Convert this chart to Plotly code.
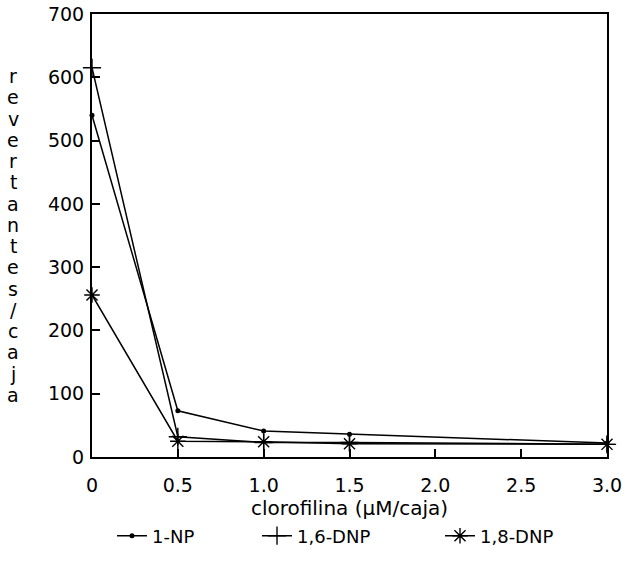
import plotly.graph_objects as go

x_vals = [0, 0.5, 1.0, 1.5, 3.0]
np1 = [540, 73, 41, 36, 22]
dnp16 = [615, 32, 23, 23, 20]
dnp18 = [256, 25, 24, 21, 20]

series_names = ["1-NP", "1,6-DNP", "1,8-DNP"]
x_ticks = [0, 0.5, 1.0, 1.5, 2.0, 2.5, 3.0]
x_ticklabels = ["0", "0.5", "1.0", "1.5", "2.0", "2.5", "3.0"]
y_ticks = [0, 100, 200, 300, 400, 500, 600, 700]
y_title = "revertantes/caja"
x_title = "clorofilina (µM/caja)"

FONT = "DejaVu Sans"
TICKFONT = 19

# body margin is removed in the page, so figure pixels == picture pixels
W, H = 625, 577
L, T = 92, 14
R = W - 607
B = H - 457
PW, PH = W - L - R, H - T - B

def px_x(p):
    return (p - L) / PW

def px_y(p):
    return (H - B - p) / PH

fig = go.Figure()
fig.add_trace(go.Scatter(x=x_vals, y=np1, name=series_names[0], mode="lines+markers",
                         line=dict(color="black", width=1.5),
                         marker=dict(symbol="circle", size=5, color="black"),
                         cliponaxis=False, legend="legend"))
fig.add_trace(go.Scatter(x=x_vals, y=dnp16, name=series_names[1], mode="lines+markers",
                         line=dict(color="black", width=1.5),
                         marker=dict(symbol="cross-thin", size=13, line=dict(color="black", width=1.4)),
                         cliponaxis=False, legend="legend2"))
fig.add_trace(go.Scatter(x=x_vals, y=dnp18, name=series_names[2], mode="lines+markers",
                         line=dict(color="black", width=1.5),
                         marker=dict(symbol="asterisk-open", size=13, line=dict(color="black", width=1.4)),
                         cliponaxis=False, legend="legend3"))

leg_common = dict(orientation="h", yanchor="middle", y=px_y(536), xanchor="left",
                  font=dict(family=FONT, size=18, color="black"),
                  bgcolor="rgba(0,0,0,0)", itemwidth=30)

fig.update_layout(
    width=W, height=H,
    margin=dict(l=L, r=R, t=T, b=B, autoexpand=False),
    paper_bgcolor="white", plot_bgcolor="white",
    font=dict(family=FONT, size=TICKFONT, color="black"),
    showlegend=True,
    legend=dict(x=px_x(112), **leg_common),
    legend2=dict(x=px_x(257), **leg_common),
    legend3=dict(x=px_x(440), **leg_common),
)
fig.update_xaxes(range=[0, 3], tickvals=x_ticks, ticktext=x_ticklabels, automargin=False,
                 showgrid=False, zeroline=False, showline=True, linecolor="black", linewidth=2,
                 mirror=True, ticks="inside", ticklen=8, tickwidth=1.5, tickcolor="black",
                 ticklabelstandoff=10, tickfont=dict(family=FONT, size=TICKFONT),
                 title=dict(text=x_title, font=dict(family=FONT, size=TICKFONT + 1), standoff=6))
fig.update_yaxes(range=[0, 700], tickvals=y_ticks, automargin=False,
                 showgrid=False, zeroline=False, showline=True, linecolor="black", linewidth=2,
                 mirror=True, ticks="inside", ticklen=8, tickwidth=1.5, tickcolor="black",
                 ticklabelstandoff=2, tickfont=dict(family=FONT, size=TICKFONT))

# vertical stacked y-axis title, one character per line
chars = list(y_title)
top_c, bot_c = 76, 395
step = (bot_c - top_c) / (len(chars) - 1)
for i, ch in enumerate(chars):
    fig.add_annotation(text=ch, xref="paper", yref="paper",
                       x=px_x(13), y=px_y(top_c + i * step), xanchor="center", yanchor="middle",
                       showarrow=False, font=dict(family=FONT, size=19, color="black"))

fig.write_html("out.html", config={"displayModeBar": False},
               post_script="document.body.style.margin='0px'; document.body.style.overflow='hidden';")
